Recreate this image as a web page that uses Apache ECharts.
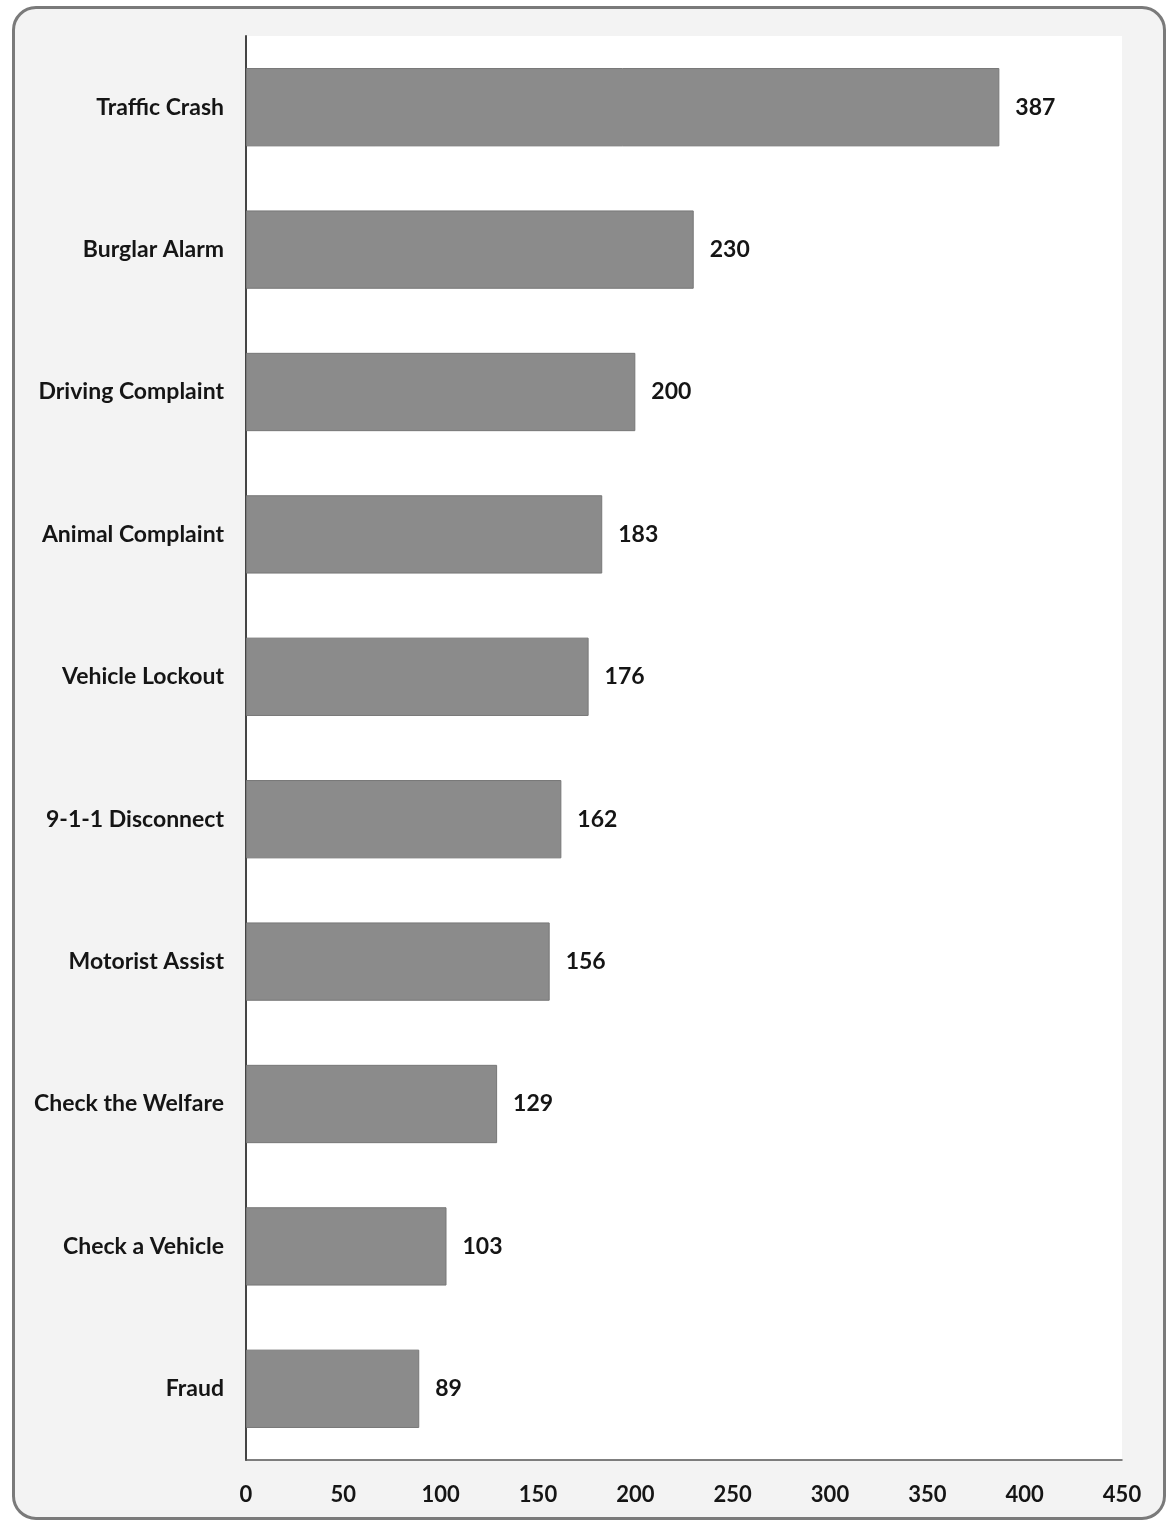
<!DOCTYPE html>
<html>
<head>
<meta charset="utf-8">
<script src="https://cdn.jsdelivr.net/npm/echarts@6/dist/echarts.min.js"></script>
<style>
  html, body { margin: 0; padding: 0; background: #fff; }
  #frame {
    position: absolute; left: 12px; top: 6px; width: 1148px; height: 1508px;
    border: 3px solid #7a7a7a; border-radius: 24px; background: #f3f3f3;
  }
  #chart { position: absolute; left: 0; top: 0; width: 1167px; height: 1522px; }
</style>
</head>
<body>
<div id="frame"></div>
<div id="chart"></div>
<script>
const categories = [
  'Traffic Crash', 'Burglar Alarm', 'Driving Complaint', 'Animal Complaint',
  'Vehicle Lockout', '9-1-1 Disconnect', 'Motorist Assist', 'Check the Welfare',
  'Check a Vehicle', 'Fraud'
]
const counts = [387, 230, 200, 183, 176, 162, 156, 129, 103, 89]
const tickMax = 450
const tickStep = 50

const myChart = echarts.init(document.getElementById('chart'))
const font = 'Lato, "Open Sans", sans-serif'

const option = {
  backgroundColor: 'transparent',
  animation: false,
  grid: {
    left: 246,
    right: 45,
    top: 36,
    bottom: 62,
    show: true,
    backgroundColor: '#ffffff',
    borderWidth: 0,
  },
  xAxis: {
    type: 'value',
    min: 0,
    max: tickMax,
    interval: tickStep,
    splitLine: { show: false },
    axisLine: { show: true, lineStyle: { color: '#555', width: 1.5 } },
    axisTick: { show: false },
    axisLabel: {
      color: '#151515',
      fontFamily: font,
      fontWeight: 'bold',
      fontSize: 22,
      margin: 24,
    },
  },
  yAxis: {
    type: 'category',
    inverse: true,
    data: categories,
    axisLine: { show: true, lineStyle: { color: '#444', width: 2 } },
    axisTick: { show: false },
    axisLabel: {
      color: '#151515',
      fontFamily: font,
      fontWeight: 'bold',
      fontSize: 23,
      margin: 22,
    },
  },
  series: [
    {
      type: 'bar',
      data: counts,
      barWidth: '55%',
      itemStyle: { color: '#8b8b8b', borderColor: '#777', borderWidth: 1 },
      label: {
        show: true,
        position: 'right',
        distance: 16,
        color: '#151515',
        fontFamily: font,
        fontWeight: 'bold',
        fontSize: 23,
      },
    },
  ],
}
myChart.setOption(option)
</script>
</body>
</html>
